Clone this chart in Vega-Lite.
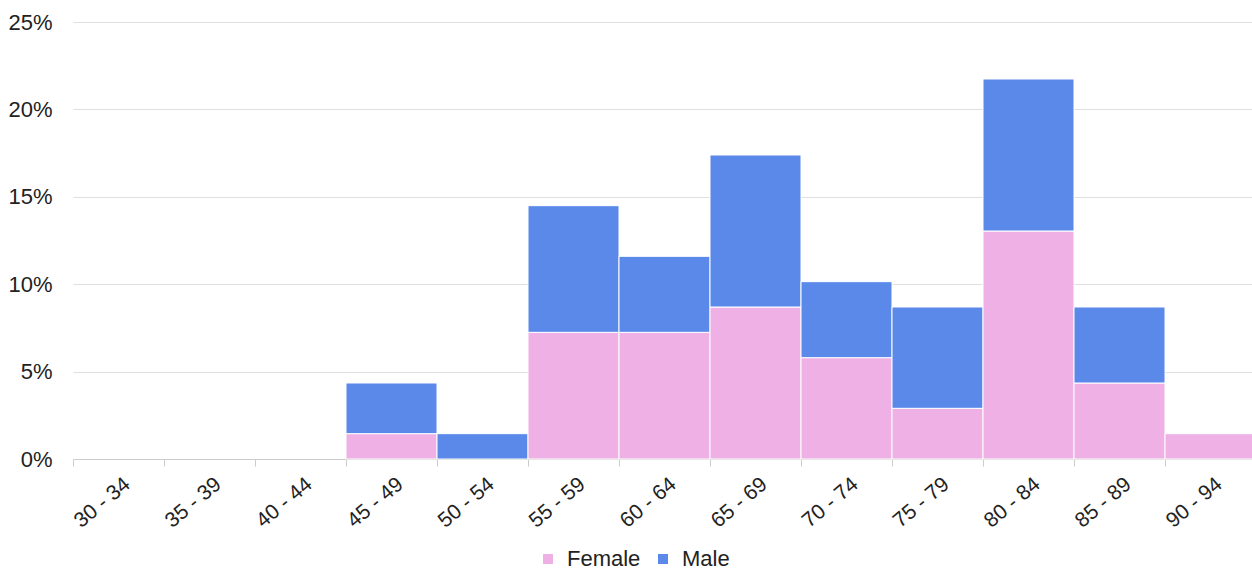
{
  "$schema": "https://vega.github.io/schema/vega-lite/v6.json",
  "width": 1183,
  "height": 437,
  "autosize": {"type": "none"},
  "padding": {"left": 73, "top": 22, "right": 0, "bottom": 111},
  "background": "white",
  "config": {
    "view": {"stroke": null},
    "font": "Liberation Sans"
  },
  "data": {
    "values": [
      {"age": "45 - 49", "sex": "Female", "share": 0.01449},
      {"age": "45 - 49", "sex": "Male", "share": 0.02899},
      {"age": "50 - 54", "sex": "Male", "share": 0.01449},
      {"age": "55 - 59", "sex": "Female", "share": 0.07246},
      {"age": "55 - 59", "sex": "Male", "share": 0.07246},
      {"age": "60 - 64", "sex": "Female", "share": 0.07246},
      {"age": "60 - 64", "sex": "Male", "share": 0.04348},
      {"age": "65 - 69", "sex": "Female", "share": 0.08696},
      {"age": "65 - 69", "sex": "Male", "share": 0.08696},
      {"age": "70 - 74", "sex": "Female", "share": 0.05797},
      {"age": "70 - 74", "sex": "Male", "share": 0.04348},
      {"age": "75 - 79", "sex": "Female", "share": 0.02899},
      {"age": "75 - 79", "sex": "Male", "share": 0.05797},
      {"age": "80 - 84", "sex": "Female", "share": 0.13043},
      {"age": "80 - 84", "sex": "Male", "share": 0.08696},
      {"age": "85 - 89", "sex": "Female", "share": 0.04348},
      {"age": "85 - 89", "sex": "Male", "share": 0.04348},
      {"age": "90 - 94", "sex": "Female", "share": 0.01449}
    ]
  },
  "mark": {"type": "bar", "stroke": "white", "strokeWidth": 1},
  "encoding": {
    "x": {
      "field": "age",
      "type": "nominal",
      "scale": {
        "domain": ["30 - 34", "35 - 39", "40 - 44", "45 - 49", "50 - 54", "55 - 59", "60 - 64", "65 - 69", "70 - 74", "75 - 79", "80 - 84", "85 - 89", "90 - 94"],
        "paddingInner": 0,
        "paddingOuter": 0
      },
      "axis": {
        "title": null,
        "bandPosition": 0,
        "labelOffset": 2,
        "labelAngle": -40,
        "labelAlign": "right",
        "labelBaseline": "top",
        "labelFontSize": 21,
        "labelColor": "#222222",
        "labelPadding": 7,
        "tickSize": 7,
        "tickColor": "#cccccc",
        "domainColor": "#cccccc",
        "grid": false
      }
    },
    "y": {
      "field": "share",
      "type": "quantitative",
      "stack": "zero",
      "scale": {"domain": [0, 0.25]},
      "axis": {
        "title": null,
        "format": ".0%",
        "values": [0, 0.05, 0.1, 0.15, 0.2, 0.25],
        "domain": false,
        "ticks": false,
        "grid": true,
        "gridColor": "#e0e0e0",
        "labelFontSize": 22,
        "labelColor": "#222222",
        "labelPadding": 21
      }
    },
    "color": {
      "field": "sex",
      "type": "nominal",
      "scale": {"domain": ["Female", "Male"], "range": ["#efb1e5", "#5a89ea"]},
      "legend": {
        "title": null,
        "orient": "none",
        "direction": "horizontal",
        "legendX": 464,
        "legendY": 526,
        "padding": 0,
        "symbolType": "square",
        "symbolSize": 100,
        "symbolStrokeWidth": 0,
        "labelFontSize": 22,
        "labelColor": "#222222",
        "labelOffset": 8,
        "columnPadding": 11
      }
    },
    "order": {"field": "sex", "sort": "ascending"}
  }
}
